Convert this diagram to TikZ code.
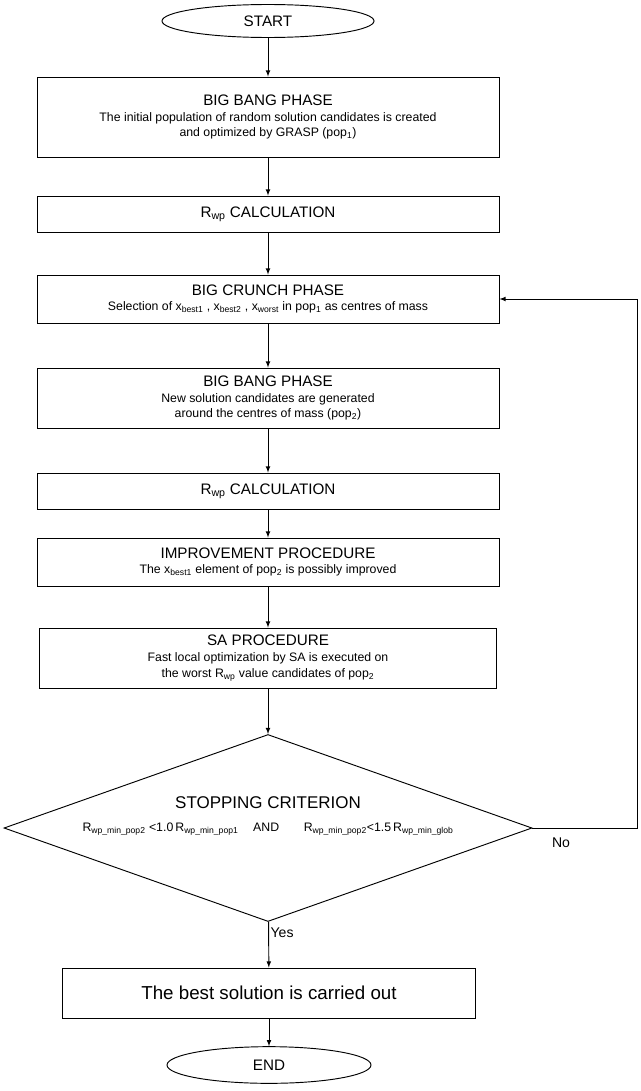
\documentclass[tikz,border=0pt]{standalone}
\usepackage{fontspec}
\setmainfont{Liberation Sans}
\usetikzlibrary{shapes}
\usetikzlibrary{arrows}
\newcommand{\ttl}[1]{{\fontsize{13}{17}\selectfont #1}}
\newcommand{\sbs}[1]{\textsubscript{#1}}
\begin{document}
\begin{tikzpicture}[x=0.03cm,y=-0.03cm]
\tikzstyle{every node}=[line width=0.8pt]
\tikzstyle{block}=[draw, rectangle, minimum width=13.86cm, align=center, inner sep=2pt, font=\fontsize{10.5}{13.5}\selectfont]
\tikzstyle{term}=[draw, ellipse, inner sep=0pt, font=\fontsize{13}{15}\selectfont]
\tikzstyle{flow}=[draw, line width=0.8pt, -latex]
\useasboundingbox (0,0) rectangle (640,1091);
\node (start) [term, minimum width=6.36cm, minimum height=0.99cm] at (268,21) {START};
\node (bang1) [block, minimum height=2.4cm] at (268,117) {\ttl{BIG BANG PHASE}\\The initial population of random solution candidates is created\\and optimized by GRASP (pop\sbs{1})};
\node (rwp1) [block, minimum height=1.08cm] at (268,214) {\ttl{R\sbs{wp} CALCULATION}};
\node (crunch) [block, minimum height=1.44cm] at (268,299) {\ttl{BIG CRUNCH PHASE}\\Selection of x\sbs{best1} , x\sbs{best2} , x\sbs{worst} in pop\sbs{1} as centres of mass};
\node (bang2) [block, minimum height=1.8cm] at (268,398) {\ttl{BIG BANG PHASE}\\New solution candidates are generated\\around the centres of mass (pop\sbs{2})};
\node (rwp2) [block, minimum height=1.08cm] at (268,491) {\ttl{R\sbs{wp} CALCULATION}};
\node (improve) [block, minimum height=1.44cm] at (268,562) {\ttl{IMPROVEMENT PROCEDURE}\\The x\sbs{best1} element of pop\sbs{2} is possibly improved};
\node (sa) [block, minimum width=13.71cm, minimum height=1.8cm] at (268,658) {\ttl{SA PROCEDURE}\\Fast local optimization by SA is executed on\\the worst R\sbs{wp} value candidates of pop\sbs{2}};
\node (crit) [draw, diamond, inner sep=0pt, shape aspect=2.82, minimum width=15.84cm, minimum height=5.61cm] at (268,828) {};
\node (crittext) [align=center, font=\fontsize{10.5}{20}\selectfont] at (268,816) {{\fontsize{14.5}{17}\selectfont STOPPING CRITERION}\\R\sbs{wp\_min\_pop2} <1.0\,R\sbs{wp\_min\_pop1}\hspace{1.2em}AND\hspace{2em}R\sbs{wp\_min\_pop2}<1.5\,R\sbs{wp\_min\_glob}};
\node (best) [block, minimum width=12.39cm, minimum height=1.5cm, font=\fontsize{16}{19}\selectfont] at (269,993) {The best solution is carried out};
\node (end) [term, minimum width=6.12cm, minimum height=1.1cm] at (269,1065) {END};
\node (no) [font=\fontsize{12}{14}\selectfont] at (561,843) {No};
\node (yes) [anchor=west, inner sep=1pt, font=\fontsize{12}{14}\selectfont] at (269,933) {Yes};
\coordinate (turn) at (637,828);
\draw [flow] (start) -- (bang1);
\draw [flow] (bang1) -- (rwp1);
\draw [flow] (rwp1) -- (crunch);
\draw [flow] (crunch) -- (bang2);
\draw [flow] (bang2) -- (rwp2);
\draw [flow] (rwp2) -- (improve);
\draw [flow] (improve) -- (sa);
\draw [flow] (sa) -- (crit);
\draw [flow] (crit) -- (best);
\draw [flow] (best) -- (end);
\draw [flow] (crit.east) -- (turn) |- (crunch.east);
\end{tikzpicture}
\end{document}
